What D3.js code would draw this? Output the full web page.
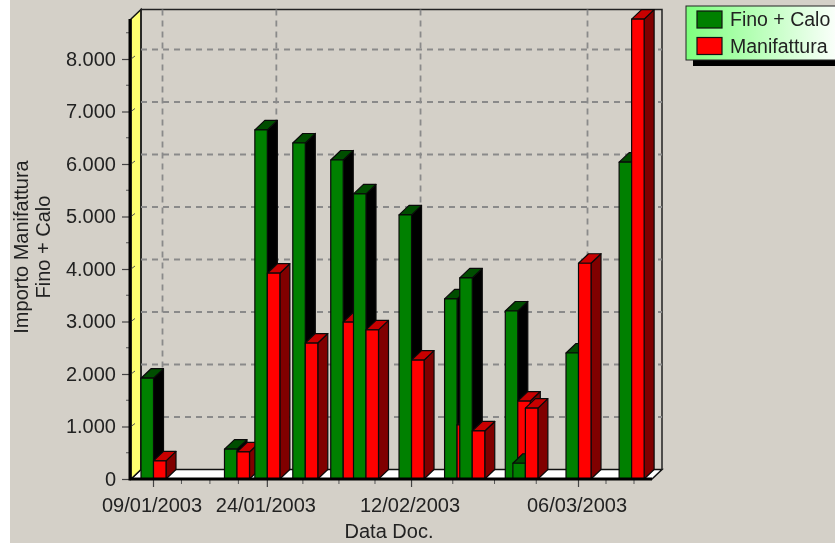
<!DOCTYPE html>
<html>
<head>
<meta charset="utf-8">
<script src="https://cdnjs.cloudflare.com/ajax/libs/d3/7.8.5/d3.min.js"></script>
<style>
  html, body { margin: 0; padding: 0; background: #d4d0c8; overflow: hidden; }
  text { font-family: "Liberation Sans", Arial, sans-serif; fill: #222; }
</style>
</head>
<body>
<div id="chart"></div>
<script>
const dates = ["2003-01-09", "2003-01-20", "2003-01-24", "2003-01-29", "2003-02-03", "2003-02-06", "2003-02-12",
  "2003-02-18", "2003-02-20", "2003-02-26", "2003-02-27", "2003-03-06", "2003-03-13"];
const finoCalo = [1920, 570, 6650, 6400, 6076, 5430, 5030, 3430, 3830, 3200, 300, 2400, 6035];
const manifattura = [345, 515, 3920, 2590, 2990, 2840, 2265, 1030, 915, 1485, 1350, 4110, 8760];
const xTickDates = ["2003-01-09", "2003-01-24", "2003-02-12", "2003-03-06"];
const yTicks = [0, 1000, 2000, 3000, 4000, 5000, 6000, 7000, 8000];
const seriesNames = ["Fino + Calo", "Manifattura"];
const seriesColors = ["#008000", "#ff0000"];
const seriesTops = ["#004d00", "#c80000"];
const seriesSides = ["#000000", "#800000"];

const chartW = 835, chartH = 543;
const fontSize = 20;
const depthX = 10, depthY = 9.5;
const barW = 12.5;
const plotLeft = 131, plotRight = 652, plotTop = 19;

const svg = d3.select("#chart").append("svg")
  .attr("width", chartW)
  .attr("height", chartH)
  .style("display", "block")
  .style("filter", "blur(0.4px)");

// Scales
const x = d3.scaleUtc().domain([new Date(xTickDates[0]), new Date(xTickDates[3])]).range([153, 578]);
const y = d3.scaleLinear().domain([0, 8000]).range([479, 59]);
const base = y(0);

const defs = svg.append("defs");
const grad = defs.append("linearGradient").attr("id", "legend-bg");
grad.append("stop").attr("offset", "0%").attr("stop-color", "#7dff7d");
grad.append("stop").attr("offset", "100%").attr("stop-color", "#ffffff");

// White strip on the left of the window
svg.append("rect").attr("width", 10).attr("height", chartH).attr("fill", "#fff");

// Floor and left wall
svg.append("polygon")
  .attr("points", [[plotLeft, base], [plotRight, base], [plotRight + depthX, base - depthY], [plotLeft + depthX, base - depthY]].join(" "))
  .attr("fill", "#fff").attr("stroke", "#111").attr("stroke-width", 1.5);
svg.append("polygon")
  .attr("points", [[plotLeft, plotTop], [plotLeft + depthX, plotTop - depthY], [plotLeft + depthX, base - depthY], [plotLeft, base]].join(" "))
  .attr("fill", "#ffff70").attr("stroke", "#111").attr("stroke-width", 1.5);

// Back wall outline
svg.append("path")
  .attr("d", `M${plotLeft + depthX},${base - depthY}V${plotTop - depthY}H${plotRight + depthX}V${base - depthY}`)
  .attr("fill", "none").attr("stroke", "#222").attr("stroke-width", 1.5);

// Grid on the back wall
svg.append("g").selectAll("line")
  .data(yTicks.slice(1))
  .join("line")
  .attr("x1", plotLeft + depthX).attr("x2", plotRight + depthX)
  .attr("y1", d => y(d) - depthY).attr("y2", d => y(d) - depthY)
  .attr("stroke", "#8a8a8a").attr("stroke-width", 1.8).attr("stroke-dasharray", "6,5");
svg.append("g").selectAll("line")
  .data(xTickDates)
  .join("line")
  .attr("x1", d => x(new Date(d)) + depthX - 0.5).attr("x2", d => x(new Date(d)) + depthX - 0.5)
  .attr("y1", plotTop - depthY).attr("y2", base - depthY)
  .attr("stroke", "#8a8a8a").attr("stroke-width", 1.8).attr("stroke-dasharray", "6,5");

// Small slanted marks across the left wall
svg.append("g").selectAll("line")
  .data(yTicks.slice(1))
  .join("line")
  .attr("x1", plotLeft).attr("x2", plotLeft + 4)
  .attr("y1", d => y(d)).attr("y2", d => y(d) - 3)
  .attr("stroke", "#555");

// Bars, date by date so later pairs cover earlier ones
const pairs = dates.flatMap((d, i) => [
  { date: new Date(d), value: finoCalo[i], s: 0 },
  { date: new Date(d), value: manifattura[i], s: 1 }
]);
const bars = svg.append("g").selectAll("g")
  .data(pairs)
  .join("g")
  .attr("stroke", "#0a0a0a")
  .attr("stroke-width", 1.2)
  .attr("stroke-linejoin", "round");
const barX = d => x(d.date) + 0.5 - (d.s === 0 ? barW : 0);
bars.append("polygon")
  .attr("fill", d => seriesSides[d.s])
  .attr("points", d => {
    const x1 = barX(d) + barW, t = y(d.value);
    return [[x1, t], [x1 + depthX, t - depthY], [x1 + depthX, base - depthY], [x1, base]].join(" ");
  });
bars.append("polygon")
  .attr("fill", d => seriesTops[d.s])
  .attr("points", d => {
    const x0 = barX(d), t = y(d.value);
    return [[x0, t], [x0 + barW, t], [x0 + barW + depthX, t - depthY], [x0 + depthX, t - depthY]].join(" ");
  });
bars.append("rect")
  .attr("fill", d => seriesColors[d.s])
  .attr("x", barX)
  .attr("y", d => y(d.value))
  .attr("width", barW)
  .attr("height", d => base - y(d.value));

// Y axis
const itLocale = d3.formatLocale({ decimal: ",", thousands: ".", grouping: [3], currency: ["", "€"] });
const yAxis = svg.append("g")
  .attr("transform", `translate(${plotLeft - 1},0)`)
  .call(d3.axisLeft(y).tickValues(yTicks).tickSize(8).tickPadding(6).tickFormat(itLocale.format(",d")));
yAxis.select(".domain").remove();
yAxis.selectAll("line").attr("stroke", "#444").attr("stroke-width", 1.2);
yAxis.selectAll("text").style("font-size", fontSize + "px").attr("fill", "#222");
svg.append("g").selectAll("line")
  .data(d3.pairs(yTicks).map(p => d3.mean(p)).concat([8500]))
  .join("line")
  .attr("x1", plotLeft - 5).attr("x2", plotLeft)
  .attr("y1", d => y(d)).attr("y2", d => y(d))
  .attr("stroke", "#555");

// X axis, four steps between labelled dates
const xMinor = d3.pairs(xTickDates.map(d => x(new Date(d))))
  .flatMap(([a, b]) => [0.25, 0.5, 0.75].map(t => a + (b - a) * t))
  .concat([606, 634]);
svg.append("g").selectAll("line")
  .data(xMinor)
  .join("line")
  .attr("x1", d => d).attr("x2", d => d)
  .attr("y1", base).attr("y2", base + 5)
  .attr("stroke", "#555");
const xAxis = svg.append("g")
  .attr("transform", `translate(0,${base})`)
  .call(d3.axisBottom(x).tickValues(xTickDates.map(d => new Date(d))).tickSize(8).tickPadding(11)
    .tickFormat(d3.utcFormat("%d/%m/%Y")));
xAxis.select(".domain").remove();
xAxis.selectAll("line").attr("stroke", "#444").attr("stroke-width", 1.2);
xAxis.selectAll("text").style("font-size", fontSize + "px").attr("fill", "#222").attr("dx", -1.5);

// Thick axis lines
svg.append("path")
  .attr("d", `M${plotLeft - 1},${plotTop}V${base}H${plotRight}`)
  .attr("fill", "none").attr("stroke", "#000").attr("stroke-width", 3);

// Axis titles
svg.append("text")
  .attr("x", 389).attr("y", 538)
  .attr("text-anchor", "middle")
  .style("font-size", fontSize + "px")
  .text("Data Doc.");
svg.append("text")
  .attr("transform", "translate(28,247) rotate(-90)")
  .attr("text-anchor", "middle")
  .style("font-size", fontSize + "px")
  .text("Importo Manifattura");
svg.append("text")
  .attr("transform", "translate(50,247) rotate(-90)")
  .attr("text-anchor", "middle")
  .style("font-size", fontSize + "px")
  .text("Fino + Calo");

// Legend
svg.append("rect").attr("x", 693).attr("y", 12).attr("width", 150).attr("height", 54).attr("fill", "#000");
svg.append("rect").attr("x", 686).attr("y", 6).attr("width", 155).attr("height", 54)
  .attr("fill", "url(#legend-bg)").attr("stroke", "#222");
const legend = svg.append("g").selectAll("g")
  .data(seriesNames)
  .join("g")
  .attr("transform", (d, i) => `translate(697,${11 + i * 26.5})`);
legend.append("rect")
  .attr("width", 25).attr("height", 17)
  .attr("fill", (d, i) => seriesColors[i])
  .attr("stroke", "#111").attr("stroke-width", 1.2);
legend.append("text")
  .attr("x", 33).attr("y", 15)
  .style("font-size", (fontSize - 0.5) + "px")
  .text(d => d);
</script>
</body>
</html>
